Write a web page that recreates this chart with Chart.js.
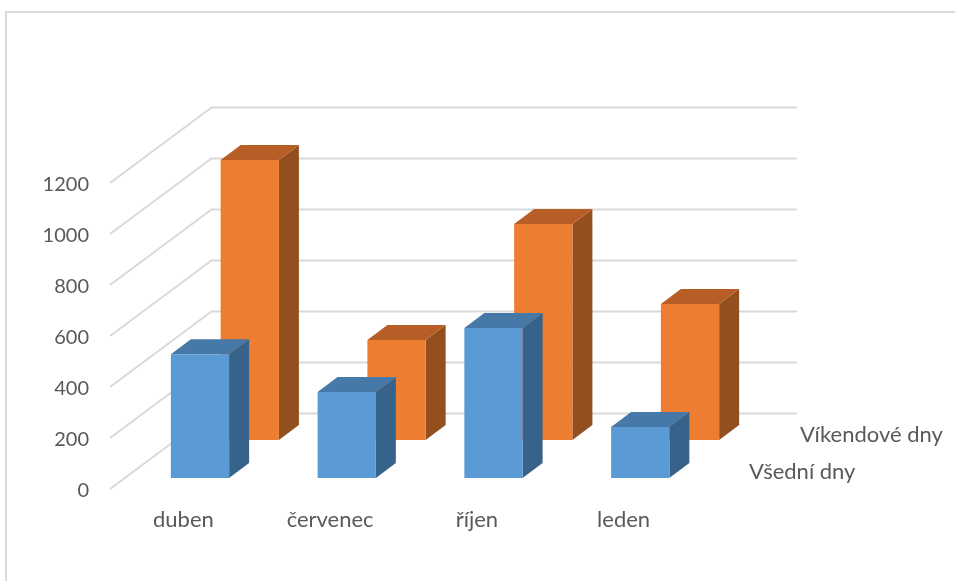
<!DOCTYPE html>
<html lang="cs">
<head>
<meta charset="utf-8">
<title>Všední a víkendové dny</title>
<script src="https://cdn.jsdelivr.net/npm/chart.js@4/dist/chart.umd.min.js"></script>
<style>
  html, body { margin: 0; padding: 0; background: #fff; }
  #frame { position: absolute; left: 0; top: 0; width: 955px; height: 581px; overflow: hidden; }
  #frame::before {
    content: ""; position: absolute; left: 5px; top: 11px; right: 0; bottom: 0;
    border-left: 2px solid #d9d9d9; border-top: 2px solid #d9d9d9;
  }
  canvas { position: absolute; left: 0; top: 0; }
</style>
</head>
<body>
<div id="frame"><canvas id="chart" width="955" height="581"></canvas></div>
<script>
const months = ['duben', 'červenec', 'říjen', 'leden'];
const weekdays = [485, 337, 588, 200];
const weekends = [1098, 392, 847, 533];
const yTicks = [0, 200, 400, 600, 800, 1000, 1200];
const seriesNames = ['Všední dny', 'Víkendové dny'];

const NUMBER_FONT = { family: 'Lato', size: 20, lineHeight: '4px' };
const WORD_FONT = { family: 'Lato', size: 22 };
const TEXT = '#595959';
const GRID = '#d9d9d9';

// Oblique depth of the floor: each series sits on its own row going back.
const WALL = { dx: 101.5, dy: -75.5, right: 797 };
const ROW = [{ dx: 16.6, dy: -11 }, { dx: 66.4, dy: -49 }];
const CAP = { dx: 20, dy: -15 };
const SHADES = [
  { top: '#4679a7', side: '#37638a' },
  { top: '#b65e25', side: '#944f1e' }
];
const SERIES_LABELS = [{ x: 749, y: 472 }, { x: 800, y: 435 }];

const depth3d = {
  id: 'depth3d',
  // Floor-to-wall grid lines, taken from the value scale.
  beforeDatasetsDraw(chart) {
    const { ctx, chartArea, scales } = chart;
    ctx.save();
    ctx.strokeStyle = GRID;
    ctx.lineWidth = 2;
    yTicks.forEach(v => {
      const y = scales.y.getPixelForValue(v);
      ctx.beginPath();
      ctx.moveTo(chartArea.left, y);
      ctx.lineTo(chartArea.left + WALL.dx, y + WALL.dy);
      ctx.lineTo(WALL.right, y + WALL.dy);
      ctx.stroke();
    });
    ctx.restore();
  },
  // Shift each series to its row, then add the side and top faces of its bars.
  beforeDatasetDraw(chart, args) {
    const { ctx } = chart;
    const row = ROW[args.index];
    const shade = SHADES[args.index];
    ctx.save();
    ctx.translate(row.dx, row.dy);
    args.meta.data.forEach(bar => {
      const { x, y, base, width } = bar.getProps(['x', 'y', 'base', 'width'], true);
      const l = x - width / 2, r = x + width / 2;
      ctx.fillStyle = shade.side;
      ctx.beginPath();
      ctx.moveTo(r, y);
      ctx.lineTo(r + CAP.dx, y + CAP.dy);
      ctx.lineTo(r + CAP.dx, base + CAP.dy);
      ctx.lineTo(r, base);
      ctx.closePath();
      ctx.fill();
      ctx.fillStyle = shade.top;
      ctx.beginPath();
      ctx.moveTo(l, y);
      ctx.lineTo(l + CAP.dx, y + CAP.dy);
      ctx.lineTo(r + CAP.dx, y + CAP.dy);
      ctx.lineTo(r, y);
      ctx.closePath();
      ctx.fill();
    });
  },
  afterDatasetDraw(chart) {
    chart.ctx.restore();
  },
  // Names of the series along the depth axis.
  afterDatasetsDraw(chart) {
    const { ctx } = chart;
    ctx.save();
    ctx.font = `${WORD_FONT.size}px ${WORD_FONT.family}`;
    ctx.fillStyle = TEXT;
    ctx.textAlign = 'left';
    ctx.textBaseline = 'middle';
    chart.data.datasets.forEach((ds, i) => {
      ctx.fillText(ds.label, SERIES_LABELS[i].x, SERIES_LABELS[i].y);
    });
    ctx.restore();
  }
};

new Chart(document.getElementById('chart'), {
  type: 'bar',
  data: {
    labels: months,
    datasets: [
      { label: seriesNames[0], data: weekdays, backgroundColor: '#5b9bd5', clip: false },
      { label: seriesNames[1], data: weekends, backgroundColor: '#ed7d31', clip: false }
    ]
  },
  options: {
    responsive: false,
    animation: false,
    events: [],
    grouped: false,
    barPercentage: 0.397,
    categoryPercentage: 1,
    layout: { padding: { left: 0, right: 258, top: 183, bottom: 0 } },
    plugins: { legend: { display: false }, tooltip: { enabled: false } },
    scales: {
      x: {
        grid: { display: false, drawTicks: false },
        border: { display: false },
        ticks: { color: TEXT, font: WORD_FONT, padding: 18, maxRotation: 0 },
        afterFit(s) { s.height = 92; }
      },
      y: {
        min: 0,
        max: 1200,
        grid: { display: false, drawTicks: false },
        border: { display: false },
        afterBuildTicks(s) { s.ticks = yTicks.map(value => ({ value })); },
        ticks: {
          color: TEXT,
          font: NUMBER_FONT,
          padding: 21,
          // The empty first line sets the number slightly below its grid line.
          callback: value => ['', String(value)]
        },
        afterFit(s) { s.width = 110; }
      }
    }
  },
  plugins: [depth3d]
});
</script>
</body>
</html>
